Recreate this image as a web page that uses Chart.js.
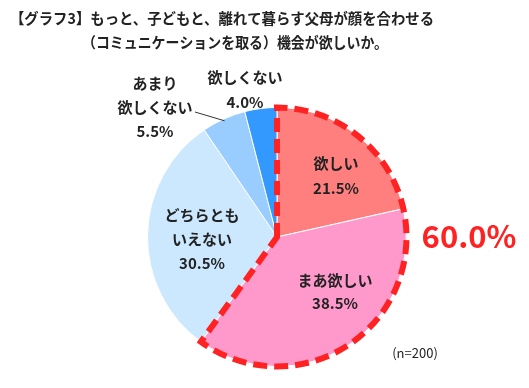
<!DOCTYPE html>
<html>
<head>
<meta charset="utf-8">
<script src="https://cdn.jsdelivr.net/npm/chart.js@4/dist/chart.umd.min.js"></script>
<style>
  html, body { margin: 0; padding: 0; background: #fff; }
  #wrap { width: 529px; height: 388px; }
</style>
</head>
<body>
<div id="wrap"><canvas id="myChart1" width="529" height="388"></canvas></div>
<script>
var titleLines = ['【グラフ3】もっと、子どもと、離れて暮らす父母が顔を合わせる', '（コミュニケーションを取る）機会が欲しいか。'];
var categories = ['欲しい', 'まあ欲しい', 'どちらともいえない', 'あまり欲しくない', '欲しくない'];
var values = [21.5, 38.5, 30.5, 5.5, 4.0];
var colors = ['#ff7f7f', '#ff99cc', '#cce8ff', '#99ccff', '#3399ff'];
var labelLines = [
    ['欲しい', '21.5%'],
    ['まあ欲しい', '38.5%'],
    ['どちらとも', 'いえない', '30.5%'],
    ['あまり', '欲しくない', '5.5%'],
    ['欲しくない', '4.0%']
];
var totalText = '60.0%';
var sampleText = '(n=200)';

var FONT = '"Noto Sans CJK JP", "Noto Sans", sans-serif';

// label spots (text only)
var labelPos = [
    [336, 163, 25],
    [335, 280, 23],
    [202, 215, 24],
    [155, 83, 24],
    [245, 77, 25]
];

var extras = {
    id: 'extras',
    afterDatasetsDraw: function (chart) {
        var ctx = chart.ctx;
        var meta = chart.getDatasetMeta(0);
        var a0 = meta.data[0], a1 = meta.data[1];
        var cx = a0.x, cy = a0.y, r = a0.outerRadius;

        // dashed outline around 欲しい + まあ欲しい
        ctx.save();
        ctx.strokeStyle = '#ff2222';
        ctx.lineWidth = 6;
        ctx.setLineDash([14, 7]);
        ctx.beginPath();
        ctx.moveTo(cx, cy);
        ctx.lineTo(cx + r * Math.cos(a0.startAngle), cy + r * Math.sin(a0.startAngle));
        ctx.arc(cx, cy, r, a0.startAngle, a1.endAngle);
        ctx.closePath();
        ctx.stroke();
        ctx.restore();

        // leader line for あまり欲しくない
        var a3 = meta.data[3];
        var mid = (a3.startAngle + a3.endAngle) / 2;
        ctx.save();
        ctx.strokeStyle = '#333';
        ctx.lineWidth = 1;
        ctx.beginPath();
        ctx.moveTo(195, 112);
        ctx.lineTo(cx + (r - 2) * Math.cos(mid), cy + (r - 2) * Math.sin(mid));
        ctx.stroke();
        ctx.restore();

        // slice labels
        ctx.save();
        ctx.fillStyle = '#222';
        ctx.textAlign = 'center';
        ctx.textBaseline = 'middle';
        ctx.font = 'bold 15px ' + FONT;
        for (var i = 0; i < labelLines.length; i++) {
            for (var j = 0; j < labelLines[i].length; j++) {
                ctx.fillText(labelLines[i][j], labelPos[i][0], labelPos[i][1] + j * labelPos[i][2]);
            }
        }
        ctx.fillStyle = '#ff2222';
        ctx.font = 'bold 31px ' + FONT;
        ctx.fillText(totalText, 469, 236);
        ctx.fillStyle = '#222';
        ctx.font = '13px ' + FONT;
        ctx.fillText(sampleText, 415, 353);

        // title
        ctx.textAlign = 'left';
        ctx.font = 'bold 15px ' + FONT;
        ctx.fillText(titleLines[0], 10, 18, 424);
        ctx.fillText(titleLines[1], 82, 42, 306);
        ctx.restore();
    }
};

var ctx = document.getElementById('myChart1').getContext('2d');
var thisChart = new Chart(ctx, {
    type: 'pie',
    data: {
        labels: categories,
        datasets: [{
            data: values,
            backgroundColor: colors,
            borderColor: '#ffffff',
            borderWidth: 1
        }]
    },
    options: {
        responsive: false,
        animation: false,
        layout: { padding: { left: 147, right: 122, top: 107, bottom: 21 } },
        plugins: {
            legend: { display: false },
            tooltip: { enabled: false },
            title: { display: false }
        }
    },
    plugins: [extras]
});
</script>
</body>
</html>
